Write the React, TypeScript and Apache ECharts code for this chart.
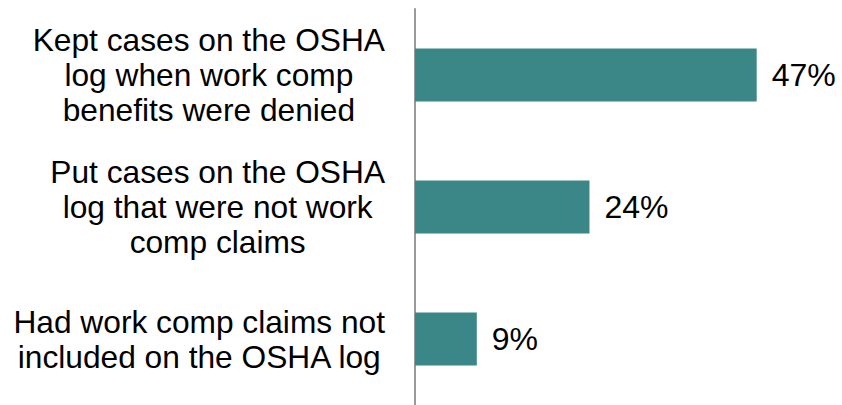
import React, { useEffect, useRef } from "react";
import * as echarts from "echarts";

const categories = [
  "Kept cases on the OSHA\nlog when work comp\nbenefits were denied",
  "Put cases on the OSHA\nlog that were not work\ncomp claims",
  "Had work comp claims not\nincluded on the OSHA log",
];
const values = [47, 24, 8.5];
const valueLabels = ["47%", "24%", "9%"];

export default function App() {
  const ref = useRef<HTMLDivElement>(null);
  useEffect(() => {
    if (!ref.current) return;
    const chart = echarts.init(ref.current, null, { renderer: "svg" });
    const font = "'Liberation Sans', Arial, sans-serif";
    chart.setOption({
      animation: false,
      backgroundColor: "#ffffff",
      grid: { left: 415, top: 9, height: 400, width: 363.5, containLabel: false },
      xAxis: {
        type: "value",
        min: 0,
        max: 50,
        show: false,
        splitLine: { show: false },
      },
      yAxis: {
        type: "category",
        inverse: true,
        data: categories,
        axisTick: { show: false },
        axisLine: { show: true, lineStyle: { color: "#9a9a9a", width: 2 } },
        axisLabel: {
          margin: 30,
          formatter: (v: string) => `{c|${v}}`,
          rich: {
            c: {
              fontFamily: font,
              fontSize: 31.7,
              lineHeight: 35,
              color: "#000",
              align: "center",
            },
          },
        },
      },
      series: [
        {
          type: "bar",
          data: values,
          barWidth: 53,
          itemStyle: { color: "#3b8686" },
          label: {
            show: true,
            position: "right",
            distance: 15,
            formatter: (p: any) => valueLabels[p.dataIndex],
            fontFamily: font,
            fontSize: 32,
            color: "#000",
          },
        },
      ],
    });
    return () => chart.dispose();
  }, []);
  return (
    <div
      ref={ref}
      style={{ position: "fixed", left: 0, top: 0, width: 842, height: 405 }}
    />
  );
}
